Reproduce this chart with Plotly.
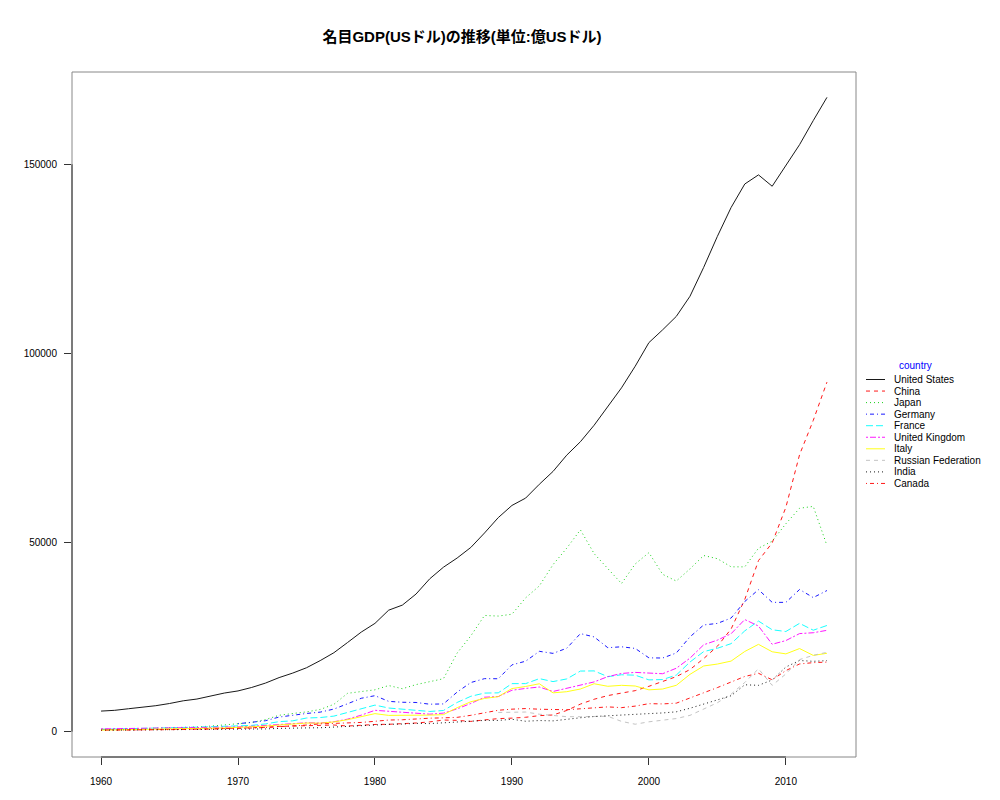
import plotly.graph_objects as go

years = list(range(1960, 2014))
nan = None

# GDP in 億USドル (100 million USD)
united_states = [5433, 5633, 6051, 6386, 6858, 7437, 8150, 8617, 9425, 10199,
                 10759, 11678, 12824, 14285, 15488, 16889, 18776, 20860, 23566, 26321,
                 28625, 32109, 33450, 36381, 40407, 43467, 45902, 48702, 52526, 56577,
                 59796, 61740, 65393, 68787, 73088, 76641, 81002, 86085, 90892, 96606,
                 102848, 106218, 109775, 115107, 122749, 130937, 138559, 144776, 147186, 144187,
                 149644, 155179, 161553, 167681]
china = [597, 501, 472, 507, 597, 704, 767, 729, 708, 797,
         926, 998, 1137, 1385, 1442, 1634, 1539, 1749, 1482, 1766,
         1894, 1944, 2032, 2285, 2574, 3067, 2978, 2704, 3095, 3439,
         3569, 3795, 4227, 4405, 5593, 7280, 8561, 9527, 10195, 10833,
         11985, 13248, 14538, 16410, 19316, 22569, 27129, 34941, 45218, 49905,
         59305, 73220, 82295, 92403]
japan = [443, 535, 607, 695, 817, 909, 1056, 1238, 1466, 1722,
         2126, 2402, 3180, 4321, 4796, 5215, 5862, 7214, 10136, 10550,
         11054, 12189, 11345, 12433, 13184, 13989, 20789, 25328, 30717, 30549,
         31037, 35368, 38528, 44149, 48503, 53339, 47062, 43243, 39146, 44326,
         47312, 41599, 39808, 43029, 46558, 45719, 43568, 43563, 48492, 50351,
         54954, 59056, 59545, 49196]
germany = [nan] * 10 + [
           2089, 2393, 2878, 3849, 4377, 4800, 5155, 5967, 7369, 8816,
           9503, 8005, 7766, 7706, 7251, 7325, 10460, 12982, 14012, 13980,
           17649, 18619, 21231, 20686, 22051, 25916, 25037, 22187, 22432, 21999,
           19506, 19458, 20791, 25057, 28198, 28614, 30024, 34399, 37524, 34180,
           34171, 37577, 35439, 37303]
france = [622, 677, 756, 848, 940, 1015, 1100, 1189, 1296, 1409,
          1485, 1650, 2035, 2644, 2856, 3600, 3726, 4103, 5067, 6138,
          7013, 6242, 5924, 5651, 5330, 5588, 7715, 9342, 10188, 10253,
          12692, 12692, 14010, 13228, 13933, 16014, 16056, 14528, 15031, 14926,
          13682, 13765, 14947, 18400, 21157, 22039, 23253, 26638, 29235, 26933,
          26468, 28627, 26814, 28064]
united_kingdom = [723, 770, 807, 854, 930, 1000, 1060, 1112, 1047, 1124,
                  1247, 1407, 1603, 1808, 1994, 2348, 2271, 2614, 3304, 4355,
                  5640, 5408, 5150, 4896, 4615, 4894, 6016, 7451, 9101, 9269,
                  10936, 11420, 11797, 10619, 11405, 12351, 13140, 14546, 15376, 15658,
                  15487, 15309, 16756, 19433, 22961, 24190, 25883, 29633, 27915, 23098,
                  24073, 25922, 26145, 26785]
italy = [404, 448, 504, 580, 632, 679, 735, 812, 879, 971,
         1130, 1241, 1448, 1749, 1991, 2277, 2242, 2571, 3156, 3922,
         4757, 4291, 4258, 4412, 4369, 4484, 6329, 7906, 8769, 9254,
         11387, 11938, 12654, 10252, 10553, 11269, 12658, 11988, 12242, 12062,
         11047, 11263, 12245, 15148, 17355, 17863, 18650, 21192, 23074, 21111,
         20555, 21963, 20147, 20710]
russian_federation = [nan] * 29 + [
                      5065,
                      5168, 5179, 4602, 4351, 3951, 3955, 3917, 4050, 2710, 1959,
                      2597, 3066, 3455, 4303, 5910, 7640, 9899, 12997, 16608, 12226,
                      15249, 19048, 20175, 20968]
india = [365, 392, 422, 484, 565, 596, 459, 501, 531, 584,
         624, 674, 715, 855, 995, 985, 1027, 1215, 1373, 1530,
         1863, 1935, 2007, 2183, 2122, 2325, 2490, 2790, 2966, 2960,
         3266, 2748, 2933, 2842, 3330, 3666, 3998, 4232, 4288, 4668,
         4766, 4939, 5238, 6184, 7220, 8342, 9491, 12387, 12241, 13654,
         17085, 18802, 18587, 18768]
canada = [411, 405, 409, 433, 472, 520, 578, 620, 671, 731,
          856, 950, 1091, 1275, 1589, 1738, 2057, 2133, 2179, 2429,
          2739, 3062, 3135, 3405, 3554, 3648, 3774, 4313, 5074, 5651,
          5939, 6100, 5924, 5772, 5781, 6040, 6286, 6540, 6340, 6743,
          7395, 7327, 7525, 8878, 10184, 11642, 13110, 14579, 15424, 13708,
          16135, 17889, 18243, 18382]

countries = ["United States", "China", "Japan", "Germany", "France",
             "United Kingdom", "Italy", "Russian Federation", "India", "Canada"]
series = [united_states, china, japan, germany, france,
          united_kingdom, italy, russian_federation, india, canada]
colors = ["#000000", "#FF0000", "#00CD00", "#0000FF", "#00FFFF",
          "#FF00FF", "#FFFF00", "#BEBEBE", "#000000", "#FF0000"]
dashes = ["solid", "4px,4px", "1px,3px", "1px,3px,4px,3px", "7px,3px",
          "2px,2px,6px,2px", "solid", "4px,4px", "1px,3px", "1px,3px,4px,3px"]

x_ticks = [1960, 1970, 1980, 1990, 2000, 2010]
y_ticks = [0, 50000, 100000, 150000]

W, H = 1000, 800
L, R, T, B = 72, 144, 72, 43
PW, PH = W - L - R, H - T - B


def px_to_paper_x(px):
    return (px - L) / PW


def px_to_paper_y(py):
    return (H - B - py) / PH


fig = go.Figure()
for name, vals, c, d in zip(countries, series, colors, dashes):
    fig.add_trace(go.Scatter(
        x=years, y=vals, mode="lines", name=name,
        line=dict(color=c, width=1, dash=d), opacity=0.9,
        connectgaps=False, showlegend=False,
    ))

font_main = "Liberation Sans, Arial, sans-serif"

fig.update_layout(
    width=W, height=H,
    margin=dict(l=L, r=R, t=T, b=B),
    paper_bgcolor="white", plot_bgcolor="white",
    font=dict(family=font_main, size=10, color="black"),
    title=dict(
        text="<b>名目GDP(USドル)の推移(単位:億USドル)</b>",
        x=0.462, xanchor="center", xref="container",
        y=1 - 37 / 800, yanchor="middle", yref="container",
        font=dict(family="Liberation Sans, Noto Sans CJK JP, sans-serif", size=15, color="black"),
    ),
    showlegend=False,
    xaxis=dict(
        range=[1957.88, 2015.12], tickvals=x_ticks, ticks="outside", ticklen=7,
        tickcolor="#333333", showgrid=False, zeroline=False, showline=False,
        tickfont=dict(size=10), ticklabelstandoff=8,
    ),
    yaxis=dict(
        range=[-6707, 174388], tickvals=y_ticks, ticks="outside", ticklen=7,
        tickcolor="#333333", showgrid=False, zeroline=False, showline=False,
        tickformat="d", tickfont=dict(size=10), ticklabelstandoff=5,
    ),
)

# box around plot region
fig.add_shape(type="rect", xref="paper", yref="paper", x0=0, x1=1, y0=0, y1=1,
              line=dict(color="#888888", width=1), layer="above")
# R-style axis lines spanning first to last tick
fig.add_shape(type="line", xref="x", yref="paper", x0=x_ticks[0], x1=x_ticks[-1], y0=0, y1=0,
              line=dict(color="#333333", width=1), layer="above")
fig.add_shape(type="line", xref="paper", yref="y", x0=0, x1=0, y0=y_ticks[0], y1=y_ticks[-1],
              line=dict(color="#333333", width=1), layer="above")

# legend (R style, compact)
fig.add_annotation(text="country", xref="paper", yref="paper",
                   x=px_to_paper_x(916), y=px_to_paper_y(365),
                   xanchor="center", yanchor="middle", showarrow=False,
                   font=dict(color="#0000FF", size=10))
y0 = 379.5
step = 11.55
for i, (name, c, d) in enumerate(zip(countries, colors, dashes)):
    yy = px_to_paper_y(y0 + i * step)
    fig.add_shape(type="line", xref="paper", yref="paper",
                  x0=px_to_paper_x(866), x1=px_to_paper_x(885), y0=yy, y1=yy,
                  line=dict(color=c, width=1, dash=d), opacity=0.9)
    fig.add_annotation(text=name, xref="paper", yref="paper",
                       x=px_to_paper_x(892), y=yy, xanchor="left", yanchor="middle",
                       showarrow=False, font=dict(size=10, color="black"))

fig.write_html("out.html", config={"displayModeBar": False},
               post_script="document.body.style.margin='0';")
